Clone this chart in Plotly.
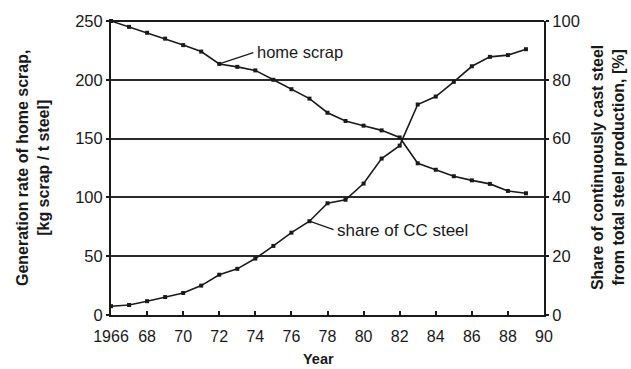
import plotly.graph_objects as go

years = list(range(1966, 1990))
home_scrap = [250, 245, 240, 235, 229.5, 224, 213.5, 211, 208, 200, 192, 184,
              172, 165, 161, 157, 151, 129, 123.5, 118, 114.5, 111.5, 105.5, 103.5]
cc_share = [3, 3.4, 4.7, 6.1, 7.5, 10, 13.7, 15.7, 19.2, 23.5, 28, 31.9,
            38, 39.2, 44.7, 53.2, 57.6, 71.6, 74.3, 79.3, 84.6, 87.8, 88.4, 90.4]

left_ticks = [0, 50, 100, 150, 200, 250]
right_ticks = [0, 20, 40, 60, 80, 100]
x_tickvals = list(range(1966, 1991, 2))
x_ticktext = ["1966"] + [str(v % 100) for v in x_tickvals[1:]]

FONT = "Liberation Sans, Arial, sans-serif"
INK = "#1a1a1a"

fig = go.Figure()
fig.add_trace(go.Scatter(
    x=years, y=home_scrap, mode="lines+markers", name="home scrap",
    line=dict(color=INK, width=1.6),
    marker=dict(symbol="square", size=4, color=INK),
    cliponaxis=False, showlegend=False))
fig.add_trace(go.Scatter(
    x=years, y=cc_share, mode="lines+markers", name="share of CC steel",
    yaxis="y2", line=dict(color=INK, width=1.6),
    marker=dict(symbol="square", size=4, color=INK),
    cliponaxis=False, showlegend=False))

fig.update_layout(
    width=631, height=369,
    margin=dict(l=111, r=87, t=17, b=54),
    paper_bgcolor="white", plot_bgcolor="white",
    font=dict(family=FONT, size=16, color=INK),
    xaxis=dict(
        range=[1966, 1990], tickvals=x_tickvals, ticktext=x_ticktext,
        showgrid=False, zeroline=False,
        showline=True, linecolor=INK, linewidth=2, mirror=False,
        ticks="inside", ticklen=4, tickwidth=1.5, tickcolor=INK,
        tickfont=dict(size=16), ticklabelstandoff=6,
    ),
    yaxis=dict(
        range=[0, 250], tickvals=left_ticks,
        showgrid=True, gridcolor="#2a2a2a", gridwidth=1.7, zeroline=False,
        showline=True, linecolor=INK, linewidth=2,
        ticks="outside", ticklen=3, tickwidth=1.5, tickcolor=INK,
        tickfont=dict(size=16.5),
    ),
    yaxis2=dict(
        range=[0, 100], tickvals=right_ticks, overlaying="y", side="right",
        showgrid=False, zeroline=False,
        showline=True, linecolor=INK, linewidth=2,
        ticks="outside", ticklen=3, tickwidth=1.5, tickcolor=INK,
        tickfont=dict(size=16.5),
    ),
)

# top frame line at 250
fig.add_shape(type="line", xref="paper", yref="paper", x0=0, x1=1, y0=1, y1=1,
              line=dict(color=INK, width=2))

# axis titles
fig.add_annotation(text="<b>Year</b>", xref="paper", yref="paper",
                   x=0.48, y=-0.148, yanchor="middle", showarrow=False,
                   font=dict(size=14.5))
fig.add_annotation(text="<b>Generation rate of home scrap,<br>[kg scrap / t steel]</b>",
                   xref="paper", yref="paper", x=-0.18, y=0.5, textangle=-90,
                   xanchor="center", yanchor="middle",
                   showarrow=False, font=dict(size=16))
fig.add_annotation(text="<b>Share of continuously cast steel<br>from total steel production, [%]</b>",
                   xref="paper", yref="paper", x=1.148, y=0.5, textangle=-90,
                   xanchor="center", yanchor="middle",
                   showarrow=False, font=dict(size=16))

# series labels with leader lines
fig.add_annotation(text="home scrap", x=1972.0, y=213.5, ax=36, ay=-12,
                   xanchor="left", showarrow=True, arrowhead=0, arrowwidth=1.3,
                   arrowcolor=INK, font=dict(size=16.5),
                   standoff=0, startstandoff=2)
fig.add_annotation(text="share of CC steel", x=1977.0, y=31.9, yref="y2",
                   ax=26, ay=9, xanchor="left", showarrow=True, arrowhead=0,
                   arrowwidth=1.3, arrowcolor=INK, font=dict(size=17),
                   standoff=0, startstandoff=2)

fig.write_html("out.html")
